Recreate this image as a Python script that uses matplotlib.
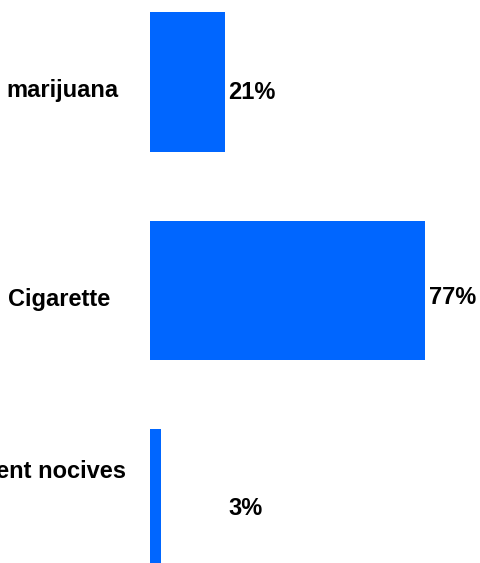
import matplotlib
matplotlib.use("Agg")
import matplotlib.pyplot as plt

categories = ['marijuana', 'Cigarette', 'Également nocives']
values = [21, 77, 3]
value_labels = ['21%', '77%', '3%']

BAR_COLOR = '#0066FF'
FONT = ['Liberation Sans', 'DejaVu Sans']
FS = 17

fig = plt.figure(figsize=(4.8, 5.63), dpi=100)
# axes: x=0 at pixel 149, 3.57 px per percent; category spacing 208.5 px
ax = fig.add_axes([150 / 480, 0, 330 / 480, 1])
px_per_unit = 3.57
ax.set_xlim(0, 330 / px_per_unit)
ax.set_ylim((563 - 82) / 208.5, -82 / 208.5)

ypos = list(range(len(categories)))
ax.barh(ypos, values, height=0.67, color=BAR_COLOR, left=0)

# label layout (pixel offsets)
cat_dx = [-31, -40, -24]
cat_dy = [-15, -15, 21]
val_dx = [3, 4, 68]
val_dy = [-17, -13, -16]

for i, (c, v, vl) in enumerate(zip(categories, values, value_labels)):
    ax.annotate(c, xy=(0, ypos[i]), xytext=(cat_dx[i], cat_dy[i]),
                textcoords='offset pixels', ha='right', va='baseline',
                fontsize=FS, fontweight='bold', family=FONT, color='black',
                annotation_clip=False)
    ax.annotate(vl, xy=(v, ypos[i]), xytext=(val_dx[i], val_dy[i]),
                textcoords='offset pixels', ha='left', va='baseline',
                fontsize=FS, fontweight='bold', family=FONT, color='black',
                annotation_clip=False)

ax.axis('off')
fig.savefig('out.png', dpi=100)
